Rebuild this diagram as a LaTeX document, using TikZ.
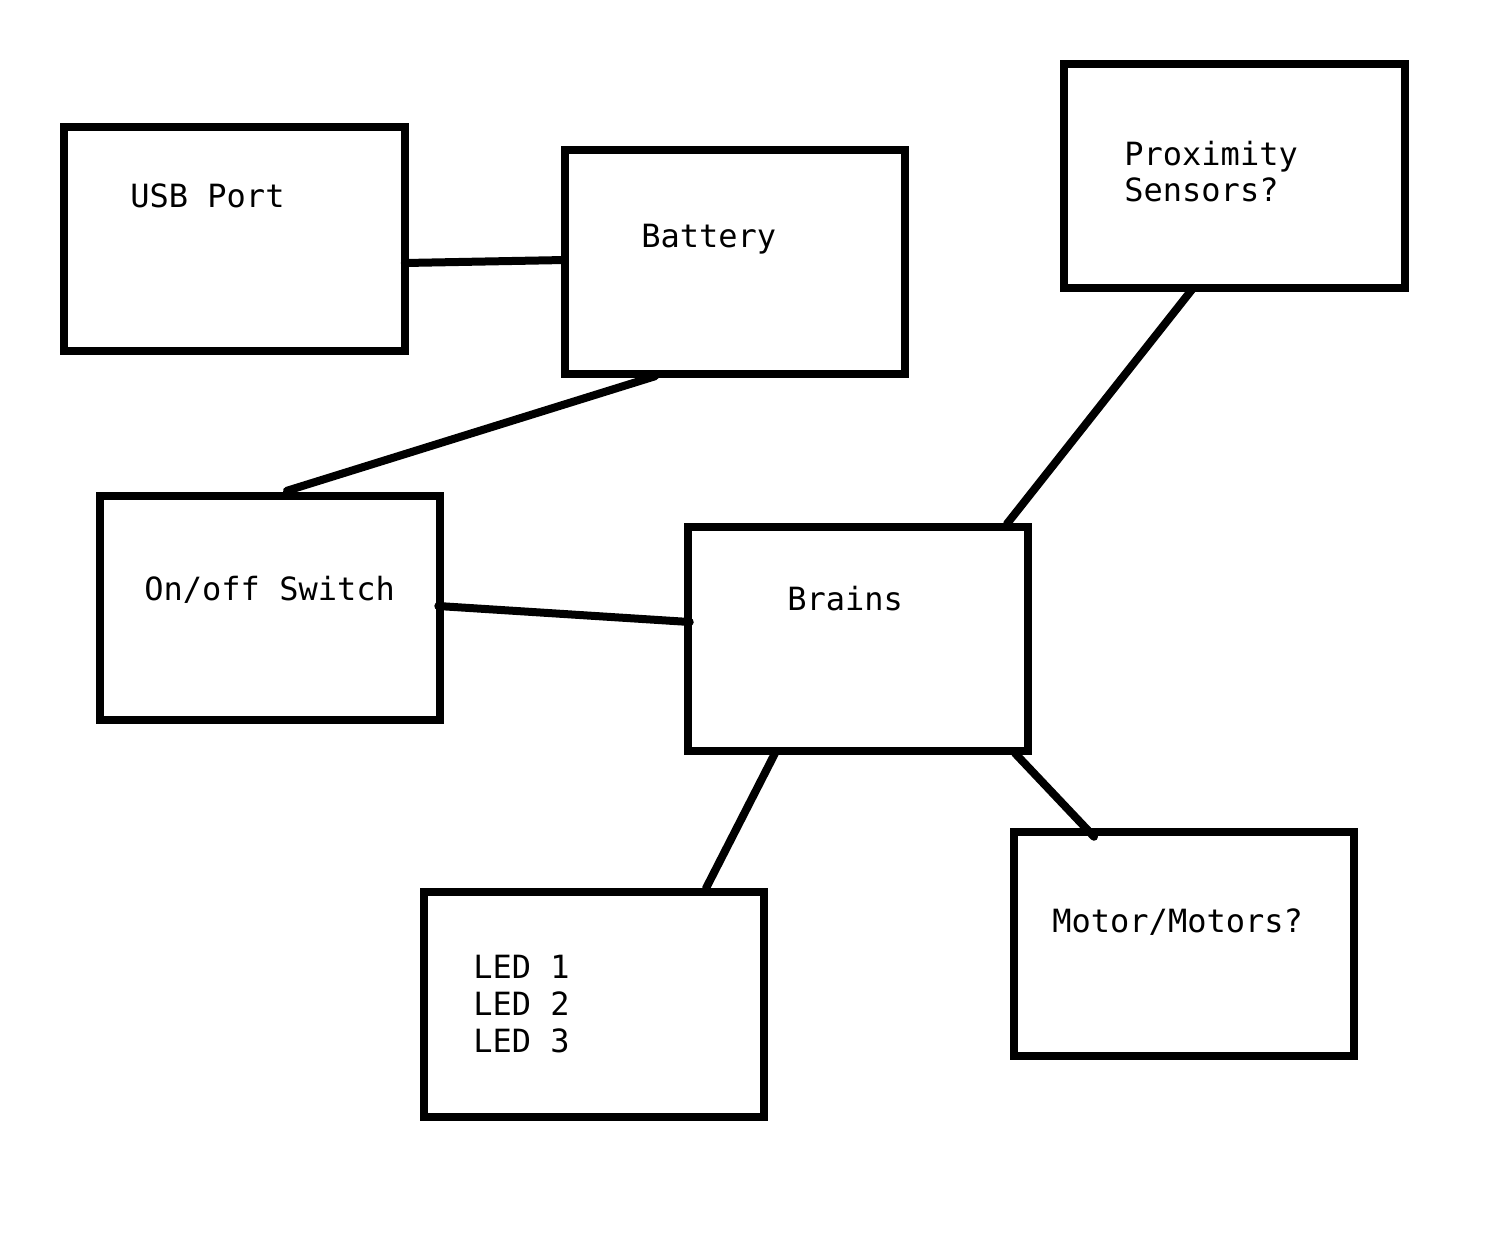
\documentclass[tikz,border=0pt]{standalone}
\usepackage{fontspec}
\setmonofont{DejaVu Sans Mono}
\begin{document}
\begin{tikzpicture}[x=0.5pt,y=-0.5pt,
  box/.style={draw=black,line width=4pt,rectangle,inner sep=0pt,outer sep=0pt,minimum width=170.25pt,minimum height=112.25pt},
  lbl/.style={anchor=base west,inner sep=0pt,font=\ttfamily\fontsize{16pt}{18.5pt}\selectfont},
  wire/.style={draw=black,line width=4pt,line cap=round}]
\useasboundingbox[fill=white] (0,0) rectangle (1502,1243);
\node[box] (usb) at (234.5,239) {};
\node[box] (bat) at (735,262) {};
\node[box] (prox) at (1234.5,176) {};
\node[box] (sw) at (270,608) {};
\node[box] (brain) at (858,639) {};
\node[box] (led) at (594,1004.5) {};
\node[box] (mot) at (1184,944) {};
\node[lbl] (tusb) at (130,207) {USB Port};
\node[lbl] (tbat) at (641,247) {Battery};
\node[lbl] (tprox1) at (1124,165) {Proximity};
\node[lbl] (tprox2) at (1124,201) {Sensors?};
\node[lbl] (tsw) at (144,600) {On/off Switch};
\node[lbl] (tbrain) at (787,610) {Brains};
\node[lbl] (tled1) at (473,978) {LED 1};
\node[lbl] (tled2) at (473,1015) {LED 2};
\node[lbl] (tled3) at (473,1052) {LED 3};
\node[lbl] (tmot) at (1052,932) {Motor/Motors?};
\draw[wire] ([yshift=-12pt]usb.east) -- ([yshift=1pt]bat.west);
\draw[wire] ([xshift=-40pt,yshift=-1pt]bat.south) -- ([xshift=8.5pt,yshift=2.5pt]sw.north);
\draw[wire] ([xshift=-20.75pt]prox.south) -- ([xshift=74.5pt,yshift=1.5pt]brain.north);
\draw[wire] ([xshift=-1pt,yshift=1pt]sw.east) -- ([xshift=1pt,yshift=8.5pt]brain.west);
\draw[wire] ([xshift=-41.5pt,yshift=-1pt]brain.south) -- ([xshift=56pt,yshift=2pt]led.north);
\draw[wire] ([xshift=78.5pt,yshift=-1pt]brain.south) -- ([xshift=-45pt,yshift=-2.5pt]mot.north);
\end{tikzpicture}
\end{document}
